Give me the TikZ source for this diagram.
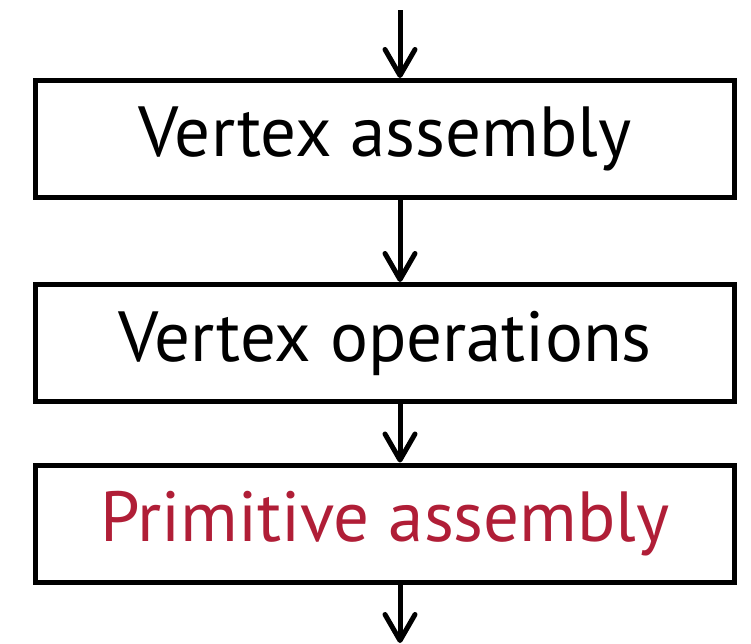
\documentclass[tikz,border=0pt]{standalone}
\usepackage{fontspec}
\setmainfont{PT Sans}
\usetikzlibrary{arrows.meta}
\definecolor{primred}{RGB}{176,30,55}
\tikzset{
  stagebox/.style={draw=black, line width=5pt, minimum width=699pt, minimum height=117pt, inner sep=0pt, font=\fontsize{71}{80}\selectfont},
  flowarrow/.style={line width=5pt, -{Straight Barb[length=26pt,width=30pt,line cap=round,line join=round]}}
}
\begin{document}
\begin{tikzpicture}[x=1pt,y=-1pt]
\useasboundingbox (0,0) rectangle (751,643);
\node[stagebox] (b1) at (385,139) {Vertex assembly};
\node[stagebox] (b2) at (385,343) {Vertex operations};
\node[stagebox, text=primred] (b3) at (385,523.5) {Primitive assembly};
\coordinate (top) at (400,10);
\coordinate (bot) at (400,643);
\draw[flowarrow] (top) -- (top |- b1.north);
\draw[flowarrow] (b1.south -| top) -- (b2.north -| top);
\draw[flowarrow] (b2.south -| top) -- (b3.north -| top);
\draw[flowarrow] (b3.south -| top) -- (bot);
\end{tikzpicture}
\end{document}
